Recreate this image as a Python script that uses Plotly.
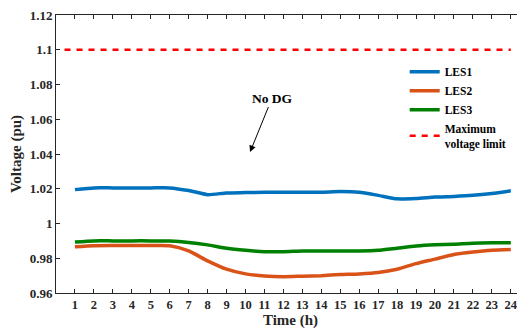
import plotly.graph_objects as go

hours = list(range(1, 25))
les1 = [1.0195, 1.0205, 1.0205, 1.0205, 1.0205, 1.0205, 1.0190, 1.0166, 1.0176, 1.0178,
        1.0180, 1.0180, 1.0180, 1.0180, 1.0184, 1.0180, 1.0162, 1.0142, 1.0144, 1.0152,
        1.0156, 1.0162, 1.0173, 1.0188]
les2 = [0.9866, 0.9872, 0.9873, 0.9873, 0.9873, 0.9872, 0.9842, 0.9785, 0.9737, 0.9710,
        0.9698, 0.9694, 0.9697, 0.9700, 0.9706, 0.9710, 0.9718, 0.9737, 0.9769, 0.9795,
        0.9822, 0.9836, 0.9846, 0.9850]
les3 = [0.9893, 0.9900, 0.9900, 0.9900, 0.9900, 0.9899, 0.9891, 0.9877, 0.9858, 0.9846,
        0.9838, 0.9838, 0.9842, 0.9842, 0.9842, 0.9842, 0.9846, 0.9858, 0.9870, 0.9877,
        0.9881, 0.9887, 0.9889, 0.9889]
limit_x = [0.45, 24]
limit_y = [1.1, 1.1]
series_names = ["LES1", "LES2", "LES3", "Maximum<br>voltage limit"]
y_ticks = [0.96, 0.98, 1.0, 1.02, 1.04, 1.06, 1.08, 1.1, 1.12]
y_ticktext = ["0.96", "0.98", "1", "1.02", "1.04", "1.06", "1.08", "1.1", "1.12"]
annot_text = "No DG"
annot_xy = (10.24, 1.0411)

FONT = "Liberation Serif"
INK = "#262626"

fig = go.Figure()
fig.add_trace(go.Scatter(x=hours, y=les1, mode="lines", name=series_names[0],
                         line=dict(color="#0072BD", width=3.5, shape="spline", smoothing=0.6)))
fig.add_trace(go.Scatter(x=hours, y=les2, mode="lines", name=series_names[1],
                         line=dict(color="#D95319", width=3.5, shape="spline", smoothing=0.6)))
fig.add_trace(go.Scatter(x=hours, y=les3, mode="lines", name=series_names[2],
                         line=dict(color="#008000", width=3.5, shape="spline", smoothing=0.6)))
fig.add_trace(go.Scatter(x=limit_x, y=limit_y, mode="lines", name=series_names[3],
                         line=dict(color="#FF0000", width=2.5, dash="6px,6px")))

fig.add_annotation(x=annot_xy[0], y=annot_xy[1], text=annot_text,
                   showarrow=True, ax=22, ay=-54, arrowhead=2, arrowsize=1.3,
                   arrowwidth=1, arrowcolor="black",
                   font=dict(family=FONT, size=13.5, color="black", weight="bold"))

# page body has an 8px margin, so the figure is offset by 8px
fig.update_layout(
    width=517, height=323,
    margin=dict(l=48, r=0, t=7, b=38),
    plot_bgcolor="white", paper_bgcolor="white",
    font=dict(family=FONT, color=INK, weight="bold"),
    showlegend=True,
    legend=dict(x=0.7435, y=0.848, xanchor="left", yanchor="top",
                bgcolor="rgba(255,255,255,0)", borderwidth=0,
                font=dict(family=FONT, size=11.5, color="black", weight="bold"),
                tracegroupgap=0, itemwidth=30),
)
fig.update_xaxes(range=[0, 24.75], tickvals=hours, ticktext=[str(h) for h in hours],
                 ticks="inside", ticklen=4,
                 tickcolor=INK, showline=True, linecolor=INK, linewidth=1,
                 mirror="ticks", showgrid=False, zeroline=False,
                 tickfont=dict(family=FONT, size=12.5, color=INK, weight="bold"),
                 title=dict(text="Time (h)", standoff=2,
                            font=dict(family=FONT, size=15, color=INK, weight="bold")))
fig.update_yaxes(range=[0.96, 1.12001], tickvals=y_ticks, ticktext=y_ticktext,
                 ticks="inside", ticklen=4, tickcolor=INK, showline=True, linecolor=INK,
                 linewidth=1, showgrid=False, zeroline=False, ticklabeloverflow="allow",
                 tickfont=dict(family=FONT, size=13, color=INK, weight="bold"),
                 title=dict(text="Voltage (pu)", standoff=6,
                            font=dict(family=FONT, size=15, color=INK, weight="bold")))

fig.write_html("out.html")
